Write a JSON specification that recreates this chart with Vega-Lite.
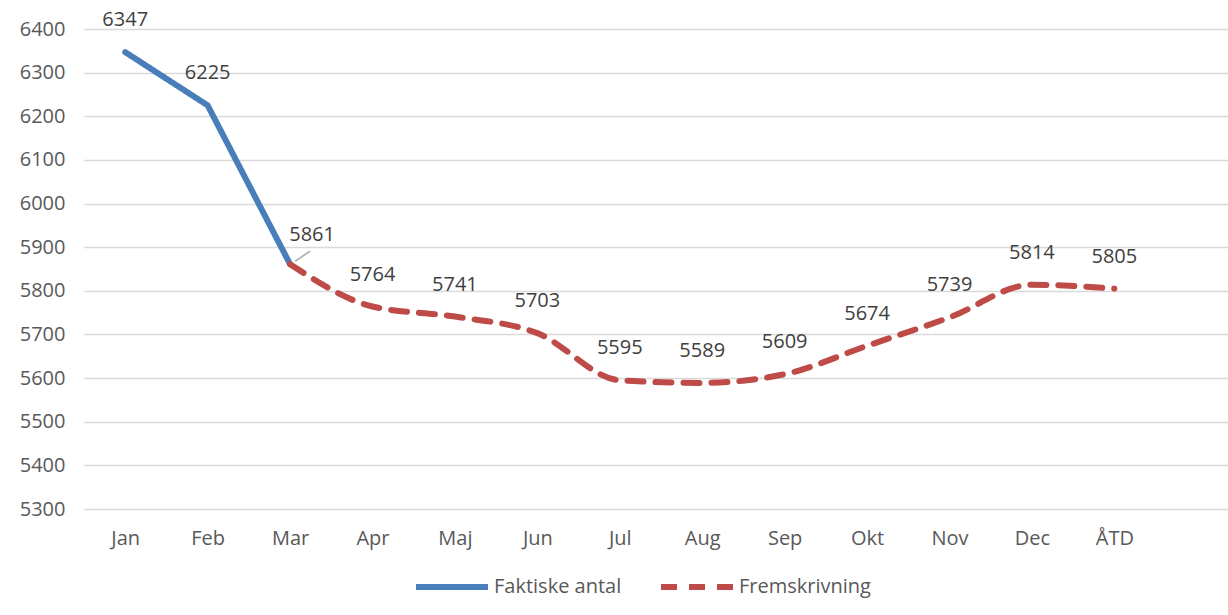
{
  "$schema": "https://vega.github.io/schema/vega-lite/v6.json",
  "autosize": {"type": "none"},
  "width": 1154,
  "height": 480,
  "padding": {"left": 84, "top": 29, "right": 0, "bottom": 106},
  "background": "white",
  "config": {
    "view": {"stroke": null},
    "font": "Open Sans"
  },
  "data": {
    "values": [
      {"month": "Jan", "value": 6347, "series": "Faktiske antal", "label": 1},
      {"month": "Feb", "value": 6225, "series": "Faktiske antal", "label": 1},
      {"month": "Mar", "value": 5861, "series": "Faktiske antal", "label": 1},
      {"month": "Mar", "value": 5861, "series": "Fremskrivning", "label": 0},
      {"month": "Apr", "value": 5764, "series": "Fremskrivning", "label": 1},
      {"month": "Maj", "value": 5741, "series": "Fremskrivning", "label": 1},
      {"month": "Jun", "value": 5703, "series": "Fremskrivning", "label": 1},
      {"month": "Jul", "value": 5595, "series": "Fremskrivning", "label": 1},
      {"month": "Aug", "value": 5589, "series": "Fremskrivning", "label": 1},
      {"month": "Sep", "value": 5609, "series": "Fremskrivning", "label": 1},
      {"month": "Okt", "value": 5674, "series": "Fremskrivning", "label": 1},
      {"month": "Nov", "value": 5739, "series": "Fremskrivning", "label": 1},
      {"month": "Dec", "value": 5814, "series": "Fremskrivning", "label": 1},
      {"month": "ÅTD", "value": 5805, "series": "Fremskrivning", "label": 1}
    ]
  },
  "encoding": {
    "x": {
      "field": "month",
      "type": "ordinal",
      "scale": {"domain": ["Jan","Feb","Mar","Apr","Maj","Jun","Jul","Aug","Sep","Okt","Nov","Dec","ÅTD"," "], "type": "point", "padding": 0.5},
      "axis": {
        "title": null,
        "labelAngle": 0,
        "ticks": false,
        "domain": false,
        "labelFontSize": 20,
        "labelColor": "#595959",
        "labelPadding": 19,
        "grid": false
      }
    },
    "y": {
      "field": "value",
      "type": "quantitative",
      "scale": {"domain": [5300, 6400], "nice": false, "zero": false},
      "axis": {
        "title": null,
        "values": [5300,5400,5500,5600,5700,5800,5900,6000,6100,6200,6300,6400],
        "format": "d",
        "ticks": false,
        "domain": false,
        "labelFontSize": 20,
        "labelColor": "#595959",
        "labelPadding": 19,
        "gridColor": "#d9d9d9",
        "gridWidth": 1.5
      }
    },
    "color": {
      "field": "series",
      "type": "nominal",
      "scale": {"domain": ["Faktiske antal", "Fremskrivning"], "range": ["#4a7ebb", "#be4b48"]},
      "legend": {
        "title": null,
        "orient": "none",
        "direction": "horizontal",
        "legendX": 329,
        "legendY": 519,
        "symbolType": "stroke",
        "symbolSize": 5184,
        "symbolStrokeWidth": 6,
        "labelFontSize": 20,
        "labelColor": "#595959",
        "labelOffset": 3,
        "columnPadding": 27
      }
    },
    "strokeDash": {
      "field": "series",
      "type": "nominal",
      "scale": {"domain": ["Faktiske antal", "Fremskrivning"], "range": [[1, 0], [16, 12]]},
      "legend": null
    }
  },
  "layer": [
    {
      "transform": [{"filter": "datum.series == 'Faktiske antal'"}],
      "mark": {"type": "line", "strokeWidth": 6, "strokeCap": "round"}
    },
    {
      "transform": [{"filter": "datum.series == 'Fremskrivning'"}],
      "mark": {"type": "line", "strokeWidth": 6, "interpolate": "monotone", "strokeCap": "round"}
    },
    {
      "transform": [{"filter": "datum.label == 1 && datum.month == 'Mar'"}],
      "mark": {"type": "rule", "xOffset": 5, "x2Offset": 20, "yOffset": -3, "y2Offset": -13, "strokeWidth": 1.5},
      "encoding": {"x2": {"field": "month"}, "y2": {"field": "value"}, "color": {"value": "#a6a6a6"}, "strokeDash": {"value": [1, 0]}}
    },
    {
      "transform": [{"filter": "datum.label == 1 && datum.month != 'Mar'"}],
      "mark": {"type": "text", "dy": -32, "fontSize": 20, "color": "#404040"},
      "encoding": {"text": {"field": "value", "type": "quantitative", "format": "d"}, "color": {"value": "#404040"}, "strokeDash": {"value": [1, 0]}}
    },
    {
      "transform": [{"filter": "datum.label == 1 && datum.month == 'Mar'"}],
      "mark": {"type": "text", "dy": -29, "dx": 22, "fontSize": 20, "color": "#404040"},
      "encoding": {"text": {"field": "value", "type": "quantitative", "format": "d"}, "color": {"value": "#404040"}, "strokeDash": {"value": [1, 0]}}
    }
  ]
}
